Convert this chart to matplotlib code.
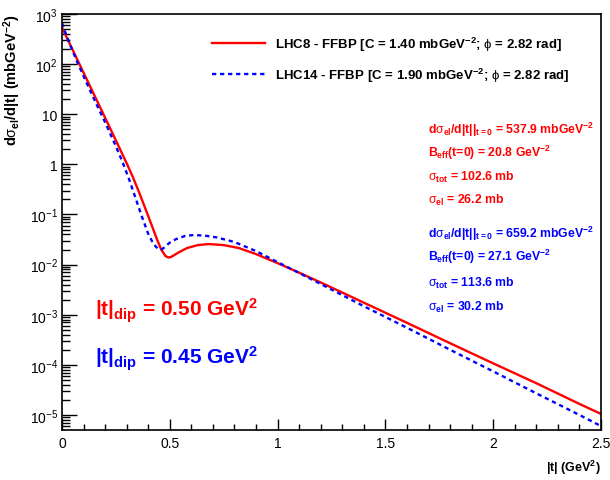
import matplotlib
matplotlib.use("Agg")
import matplotlib.pyplot as plt
from matplotlib.ticker import FixedLocator, FixedFormatter, MultipleLocator, FuncFormatter

# fonts (ROOT-like helvetica)
FONT = 'Liberation Sans'
plt.rcParams['font.family'] = [FONT, 'DejaVu Sans']
plt.rcParams['mathtext.fontset'] = 'custom'
plt.rcParams['mathtext.rm'] = FONT
plt.rcParams['mathtext.it'] = FONT
plt.rcParams['mathtext.sf'] = FONT
plt.rcParams['mathtext.bf'] = FONT + ':bold'

# LHC8 - FFBP (red, solid)
t_lhc8 = [0.0, 0.04, 0.08, 0.12, 0.16, 0.2, 0.25, 0.3, 0.33, 0.36, 0.39, 0.42, 0.44, 0.46,
          0.48, 0.495, 0.51, 0.54, 0.58, 0.63, 0.68, 0.75, 0.82, 0.9, 1.0, 1.1, 1.2,
          1.4, 1.6, 1.8, 2.0, 2.2, 2.4, 2.5]
ds_lhc8 = [537.9, 234, 102, 44.7, 19.5, 8.5, 3.0, 1.05, 0.54, 0.26, 0.12, 0.055, 0.0324, 0.020,
           0.0148, 0.0138, 0.0145, 0.0174, 0.0214, 0.0245, 0.0257, 0.0245, 0.0214, 0.0162,
           0.0107, 0.0069, 0.0044, 0.00174, 6.9e-4, 2.7e-4, 1.07e-4, 4.3e-5, 1.66e-5, 1.05e-5]

# LHC14 - FFBP (blue, dashed)
t_lhc14 = [0.0, 0.02, 0.04, 0.07, 0.1, 0.15, 0.2, 0.25, 0.28, 0.31, 0.34, 0.37, 0.4, 0.42,
           0.435, 0.447, 0.457, 0.467, 0.48, 0.5, 0.53, 0.57, 0.61, 0.66, 0.72, 0.8, 0.9,
           1.0, 1.1, 1.2, 1.4, 1.6, 1.8, 2.0, 2.2, 2.4, 2.5]
ds_lhc14 = [659.2, 380, 229, 112, 57.5, 19.5, 6.9, 2.29, 1.13, 0.52, 0.22, 0.092, 0.041, 0.028,
            0.0228, 0.0206, 0.0200, 0.0207, 0.0232, 0.0275, 0.0324, 0.0372, 0.0389, 0.0380,
            0.0347, 0.0282, 0.0186, 0.0112, 0.0068, 0.0041, 0.00148, 5.5e-4, 2.0e-4, 7.4e-5,
            2.7e-5, 1.0e-5, 6.0e-6]

lab_lhc8 = r'LHC8 - FFBP [C = 1.40 mbGeV$^{\mathbf{-2}}$; $\phi$ = 2.82 rad]'
lab_lhc14 = r'LHC14 - FFBP [C = 1.90 mbGeV$^{\mathbf{-2}}$; $\phi$ = 2.82 rad]'

info_lhc8 = [r'd$\sigma_{\mathbf{el}}$/d|t||$_{\mathbf{t=0}}$ = 537.9 mbGeV$^{\mathbf{-2}}$',
             r'B$_{\mathbf{eff}}$(t=0) = 20.8 GeV$^{\mathbf{-2}}$',
             r'$\sigma_{\mathbf{tot}}$ = 102.6 mb',
             r'$\sigma_{\mathbf{el}}$ = 26.2 mb']
info_lhc14 = [r'd$\sigma_{\mathbf{el}}$/d|t||$_{\mathbf{t=0}}$ = 659.2 mbGeV$^{\mathbf{-2}}$',
              r'B$_{\mathbf{eff}}$(t=0) = 27.1 GeV$^{\mathbf{-2}}$',
              r'$\sigma_{\mathbf{tot}}$ = 113.6 mb',
              r'$\sigma_{\mathbf{el}}$ = 30.2 mb']

ytick_vals = [1e-5, 1e-4, 1e-3, 1e-2, 1e-1, 1, 10, 1e2, 1e3]
ytick_labs = [r'$10^{-5}$', r'$10^{-4}$', r'$10^{-3}$', r'$10^{-2}$', r'$10^{-1}$', '1', '10',
              r'$10^{2}$', r'$10^{3}$']

fig = plt.figure(figsize=(6.1, 4.81), dpi=100)
ax = fig.add_axes([62/610, 1-431/481, (601-62)/610, (431-15)/481])

ax.plot(t_lhc8, ds_lhc8, color='#ff0000', lw=1.7, label=lab_lhc8)
ax.plot(t_lhc14, ds_lhc14, color='#0000ff', lw=1.7, dashes=(1.8, 1.6), label=lab_lhc14)

ax.set_yscale('log')
ax.set_xlim(0, 2.5)
ax.set_ylim(10**-5.3, 1e3)

ax.yaxis.set_major_locator(FixedLocator(ytick_vals))
ax.yaxis.set_major_formatter(FixedFormatter(ytick_labs))
ax.xaxis.set_major_locator(MultipleLocator(0.5))
ax.xaxis.set_minor_locator(MultipleLocator(0.1))
ax.xaxis.set_major_formatter(FuncFormatter(lambda v, p: '%g' % v))

ax.tick_params(which='both', direction='in', top=False, right=False, width=1.0)
ax.tick_params(axis='y', which='major', length=11, labelsize=10, pad=3)
ax.tick_params(axis='y', which='minor', length=6)
ax.tick_params(axis='x', which='major', length=8, labelsize=10, pad=4)
ax.tick_params(axis='x', which='minor', length=4)
for s in ax.spines.values():
    s.set_linewidth(1.2)

ax.set_ylabel(r'd$\sigma_{\mathbf{el}}$/d|t| (mbGeV$^{\mathbf{-2}}$)', fontweight='bold',
              fontsize=10.5, loc='top')
ax.yaxis.set_label_coords(-0.072, 1.0)
ax.set_xlabel(r'|t| (GeV$^{\mathbf{2}}$)', fontweight='bold', fontsize=9, loc='right')
ax.xaxis.set_label_coords(1.0, -0.068)

ax.legend(loc='upper left', bbox_to_anchor=(200/610, 1-24/481), bbox_transform=fig.transFigure,
          frameon=False, prop={'weight': 'bold', 'size': 9.5}, handlelength=4.0,
          handletextpad=0.75, labelspacing=0.95)

ys8 = [130, 153, 177, 200]
ys14 = [234, 257, 283, 307]
for s, y in zip(info_lhc8, ys8):
    fig.text(428/610, 1-y/481, s, color='#ff0000', fontweight='bold', fontsize=8.8, va='center')
for s, y in zip(info_lhc14, ys14):
    fig.text(428/610, 1-y/481, s, color='#0000ff', fontweight='bold', fontsize=8.8, va='center')

fig.text(95/610, 1-311/481, r'|t|$_{\mathbf{dip}}$ = 0.50 GeV$^{\mathbf{2}}$', color='#ff0000',
         fontweight='bold', fontsize=15, va='center')
fig.text(95/610, 1-359/481, r'|t|$_{\mathbf{dip}}$ = 0.45 GeV$^{\mathbf{2}}$', color='#0000ff',
         fontweight='bold', fontsize=15, va='center')

fig.savefig('out.png', dpi=100)
